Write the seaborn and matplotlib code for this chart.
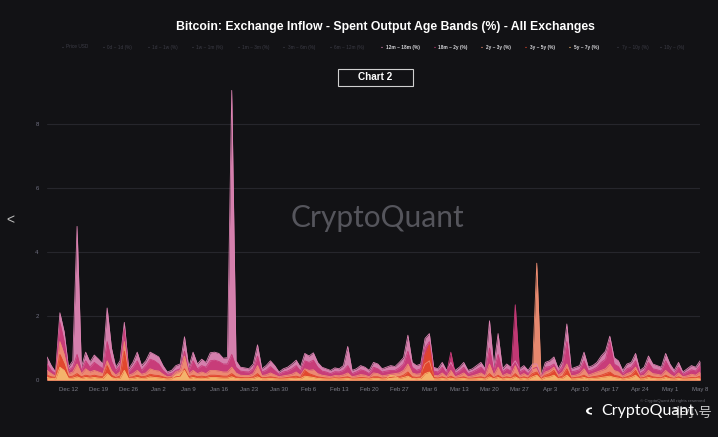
import numpy as np
import pandas as pd
import matplotlib
matplotlib.use("Agg")
import matplotlib.pyplot as plt
import matplotlib.dates as mdates
from matplotlib.patches import Rectangle, Wedge
import seaborn as sns

# ---------------- data (% of inflow) ----------------
start_date = "2022-12-07"

band_12m_18m = [
    0.72, 0.45, 0.25, 2.10, 1.50, 0.40, 0.60, 4.80, 0.40, 0.87,
    0.56, 0.78, 0.65, 0.50, 2.25, 1.00, 0.40, 0.60, 1.80, 0.35,
    0.55, 0.87, 0.45, 0.60, 0.87, 0.80, 0.72, 0.45, 0.25, 0.30,
    0.45, 0.50, 1.35, 0.40, 0.87, 0.50, 0.65, 0.55, 0.85, 0.87,
    0.83, 0.68, 0.70, 9.05, 0.60, 0.40, 0.38, 0.35, 0.50, 1.10,
    0.35, 0.45, 0.60, 0.45, 0.25, 0.35, 0.40, 0.50, 0.62, 0.40,
    0.83, 0.75, 0.85, 0.55, 0.40, 0.35, 0.30, 0.38, 0.35, 0.45,
    1.05, 0.30, 0.35, 0.45, 0.40, 0.30, 0.55, 0.50, 0.35, 0.40,
    0.45, 0.42, 0.55, 0.70, 1.40, 0.55, 0.45, 0.50, 1.30, 1.45,
    0.40, 0.35, 0.55, 0.30, 0.55, 0.30, 0.40, 0.55, 0.30, 0.35,
    0.45, 0.55, 0.35, 1.85, 0.40, 1.45, 0.35, 0.50, 0.40, 0.60,
    0.35, 0.45, 0.30, 0.50, 0.50, 0.15, 0.55, 0.60, 0.72, 0.35,
    0.60, 1.75, 0.35, 0.40, 0.45, 0.87, 0.40, 0.45, 0.55, 0.75,
    0.90, 1.37, 0.70, 0.60, 0.30, 0.50, 0.55, 0.83, 0.30, 0.40,
    0.75, 0.50, 0.45, 0.40, 0.83, 0.50, 0.30, 0.55, 0.25, 0.35,
    0.45, 0.40, 0.60,
]
band_18m_2y = [
    0.50, 0.30, 0.20, 1.80, 1.20, 0.30, 0.40, 0.80, 0.30, 0.60,
    0.40, 0.55, 0.45, 0.35, 1.20, 0.60, 0.30, 0.45, 1.60, 0.25,
    0.40, 0.60, 0.30, 0.45, 0.65, 0.60, 0.50, 0.30, 0.18, 0.20,
    0.30, 0.35, 0.90, 0.30, 0.60, 0.35, 0.45, 0.40, 0.60, 0.62,
    0.58, 0.50, 0.50, 0.80, 0.40, 0.28, 0.26, 0.25, 0.35, 0.75,
    0.25, 0.30, 0.42, 0.30, 0.18, 0.25, 0.28, 0.35, 0.45, 0.28,
    0.60, 0.55, 0.62, 0.40, 0.28, 0.25, 0.20, 0.26, 0.25, 0.30,
    0.45, 0.20, 0.25, 0.32, 0.28, 0.20, 0.40, 0.35, 0.25, 0.28,
    0.30, 0.30, 0.38, 0.50, 0.90, 0.40, 0.30, 0.35, 1.00, 1.20,
    0.28, 0.25, 0.40, 0.20, 0.87, 0.20, 0.28, 0.40, 0.20, 0.25,
    0.32, 0.40, 0.25, 1.00, 0.28, 0.80, 0.25, 0.35, 0.28, 2.35,
    0.25, 0.32, 0.20, 0.35, 0.40, 0.10, 0.40, 0.42, 0.50, 0.25,
    0.42, 1.20, 0.25, 0.28, 0.32, 0.60, 0.28, 0.32, 0.40, 0.55,
    0.65, 1.20, 0.50, 0.42, 0.20, 0.35, 0.40, 0.60, 0.20, 0.28,
    0.55, 0.35, 0.32, 0.28, 0.60, 0.35, 0.20, 0.40, 0.18, 0.25,
    0.32, 0.28, 0.45,
]
band_2y_3y = [
    0.30, 0.20, 0.12, 1.20, 0.80, 0.20, 0.25, 0.50, 0.20, 0.35,
    0.25, 0.30, 0.25, 0.20, 0.60, 0.30, 0.15, 0.25, 1.20, 0.15,
    0.20, 0.30, 0.18, 0.22, 0.35, 0.30, 0.28, 0.18, 0.10, 0.12,
    0.25, 0.30, 0.75, 0.20, 0.30, 0.20, 0.25, 0.20, 0.30, 0.30,
    0.28, 0.25, 0.25, 0.40, 0.22, 0.15, 0.14, 0.14, 0.20, 0.45,
    0.14, 0.16, 0.22, 0.16, 0.10, 0.13, 0.15, 0.18, 0.25, 0.15,
    0.35, 0.30, 0.32, 0.20, 0.15, 0.13, 0.10, 0.14, 0.13, 0.16,
    0.22, 0.10, 0.13, 0.17, 0.15, 0.10, 0.22, 0.20, 0.13, 0.15,
    0.18, 0.20, 0.22, 0.30, 0.50, 0.22, 0.18, 0.20, 0.50, 0.60,
    0.15, 0.13, 0.22, 0.10, 0.30, 0.10, 0.15, 0.22, 0.10, 0.13,
    0.17, 0.22, 0.13, 0.50, 0.15, 0.40, 0.13, 0.20, 0.15, 0.45,
    0.13, 0.20, 0.12, 0.30, 3.65, 0.08, 0.25, 0.30, 0.40, 0.15,
    0.25, 0.50, 0.13, 0.15, 0.20, 0.35, 0.15, 0.20, 0.25, 0.30,
    0.35, 0.50, 0.30, 0.25, 0.12, 0.20, 0.25, 0.40, 0.12, 0.15,
    0.30, 0.20, 0.18, 0.15, 0.30, 0.18, 0.10, 0.22, 0.10, 0.13,
    0.18, 0.15, 0.25,
]
band_3y_5y = [
    0.15, 0.10, 0.08, 0.80, 0.50, 0.10, 0.12, 0.20, 0.10, 0.15,
    0.12, 0.15, 0.12, 0.10, 0.45, 0.15, 0.08, 0.12, 0.90, 0.08,
    0.10, 0.15, 0.10, 0.12, 0.18, 0.15, 0.14, 0.10, 0.06, 0.07,
    0.10, 0.12, 0.35, 0.10, 0.15, 0.10, 0.12, 0.10, 0.15, 0.15,
    0.14, 0.12, 0.12, 0.20, 0.10, 0.08, 0.07, 0.07, 0.10, 0.20,
    0.07, 0.08, 0.10, 0.08, 0.05, 0.06, 0.08, 0.10, 0.12, 0.08,
    0.30, 0.20, 0.15, 0.10, 0.08, 0.06, 0.05, 0.07, 0.06, 0.08,
    0.10, 0.05, 0.06, 0.08, 0.07, 0.05, 0.10, 0.10, 0.06, 0.07,
    0.08, 0.10, 0.10, 0.15, 0.25, 0.10, 0.08, 0.10, 0.80, 1.10,
    0.08, 0.06, 0.10, 0.05, 0.12, 0.05, 0.07, 0.10, 0.05, 0.06,
    0.08, 0.10, 0.06, 0.20, 0.07, 0.15, 0.06, 0.10, 0.07, 0.20,
    0.06, 0.10, 0.06, 0.20, 0.25, 0.04, 0.15, 0.20, 0.30, 0.08,
    0.12, 0.35, 0.06, 0.08, 0.10, 0.15, 0.07, 0.10, 0.12, 0.15,
    0.20, 0.25, 0.15, 0.12, 0.06, 0.10, 0.15, 0.30, 0.06, 0.08,
    0.15, 0.10, 0.08, 0.07, 0.15, 0.08, 0.05, 0.10, 0.05, 0.06,
    0.08, 0.07, 0.12,
]
band_5y_7y = [
    0.08, 0.05, 0.04, 0.40, 0.30, 0.05, 0.06, 0.10, 0.05, 0.08,
    0.06, 0.08, 0.06, 0.05, 0.20, 0.08, 0.04, 0.06, 0.30, 0.04,
    0.05, 0.08, 0.05, 0.06, 0.10, 0.08, 0.07, 0.05, 0.03, 0.04,
    0.15, 0.20, 0.30, 0.05, 0.08, 0.05, 0.06, 0.05, 0.08, 0.08,
    0.07, 0.06, 0.06, 0.10, 0.05, 0.04, 0.04, 0.04, 0.05, 0.10,
    0.04, 0.04, 0.05, 0.04, 0.03, 0.03, 0.04, 0.05, 0.06, 0.04,
    0.12, 0.10, 0.08, 0.05, 0.04, 0.03, 0.03, 0.04, 0.03, 0.04,
    0.05, 0.03, 0.03, 0.04, 0.04, 0.03, 0.05, 0.05, 0.03, 0.04,
    0.15, 0.12, 0.05, 0.08, 0.12, 0.05, 0.04, 0.05, 0.20, 0.25,
    0.04, 0.03, 0.05, 0.03, 0.06, 0.03, 0.04, 0.05, 0.03, 0.03,
    0.04, 0.05, 0.03, 0.10, 0.04, 0.08, 0.03, 0.05, 0.04, 0.10,
    0.03, 0.05, 0.03, 0.10, 0.15, 0.02, 0.08, 0.10, 0.15, 0.04,
    0.06, 0.15, 0.03, 0.04, 0.05, 0.08, 0.04, 0.05, 0.06, 0.08,
    0.10, 0.12, 0.08, 0.06, 0.03, 0.05, 0.08, 0.15, 0.03, 0.04,
    0.08, 0.05, 0.04, 0.04, 0.08, 0.04, 0.03, 0.05, 0.03, 0.03,
    0.04, 0.04, 0.06,
]

series_names = ["12m ~ 18m (%)", "18m ~ 2y (%)", "2y ~ 3y (%)", "3y ~ 5y (%)", "5y ~ 7y (%)"]
series_values = [band_12m_18m, band_18m_2y, band_2y_3y, band_3y_5y, band_5y_7y]
series_colors = ["#dc83b2", "#c83a78", "#ee8d72", "#e1452c", "#f5b76e"]

legend_labels = ["Price USD", "0d ~ 1d (%)", "1d ~ 1w (%)", "1w ~ 1m (%)", "1m ~ 3m (%)",
                 "3m ~ 6m (%)", "6m ~ 12m (%)", "12m ~ 18m (%)", "18m ~ 2y (%)",
                 "2y ~ 3y (%)", "3y ~ 5y (%)", "5y ~ 7y (%)", "7y ~ 10y (%)", "10y ~ (%)"]
legend_active = [False] * 7 + [True] * 5 + [False] * 2

y_ticks = [0, 2, 4, 6, 8]

title = "Bitcoin: Exchange Inflow - Spent Output Age Bands (%) - All Exchanges"

# ---------------- figure ----------------
dates = pd.date_range(start_date, periods=len(band_12m_18m), freq="D")
rows = []
for name, vals in zip(series_names, series_values):
    assert len(vals) == len(dates), (name, len(vals))
    for d, v in zip(dates, vals):
        rows.append({"date": d, "band": name, "value": v})
df = pd.DataFrame(rows)

sns.set_theme(style="dark")
BG = "#121215"
plt.rcParams["font.family"] = ["Liberation Sans", "DejaVu Sans"]

fig = plt.figure(figsize=(7.18, 4.37), dpi=100, facecolor=BG)
W, H = 718, 437
ax_left, ax_right, ax_top, ax_bot = 47, 700, 85.6, 380
ax = fig.add_axes([ax_left / W, 1 - ax_bot / H, (ax_right - ax_left) / W, (ax_bot - ax_top) / H])
ax.set_facecolor(BG)

for name, col in zip(series_names, series_colors):
    sub = df[df["band"] == name]
    ax.fill_between(sub["date"], 0, sub["value"], color=col, linewidth=0, alpha=0.97)
sns.lineplot(data=df, x="date", y="value", hue="band", palette=dict(zip(series_names, series_colors)),
             linewidth=0.6, legend=False, ax=ax)

ax.set_xlim(dates[0], dates[-1])
ax.set_ylim(0, 9.2)
ax.set_yticks(y_ticks)
ax.grid(axis="y", color="#26262c", linewidth=0.8)
ax.grid(axis="x", visible=False)
ax.set_axisbelow(True)
for s in ax.spines.values():
    s.set_visible(False)
ax.set_xlabel("")
ax.set_ylabel("")
ax.xaxis.set_major_locator(mdates.WeekdayLocator(byweekday=mdates.MO))
ax.xaxis.set_major_formatter(mdates.DateFormatter("%b %-d"))
ax.tick_params(axis="x", colors="#7d7d88", labelsize=4.3, length=0, pad=5)
ax.tick_params(axis="y", colors="#6f6f80", labelsize=4.3, length=0, pad=6)

# title
fig.text(385 / W, 1 - 27 / H, title, ha="center", va="center", color="white",
         fontsize=8.8, fontweight="bold")

# legend row
legend_x = [62, 103, 148, 192, 238, 283, 330, 381, 434, 481, 525, 569, 617, 660]
for lx, lab, act in zip(legend_x, legend_labels, legend_active):
    tcol = "#d8d8dc" if act else "#3c3c46"
    if lab in series_names and act:
        mcol = series_colors[series_names.index(lab)]
    else:
        mcol = "#3c3c46"
    fig.text(lx / W, 1 - 47 / H, "●", color=mcol, fontsize=2.5, ha="left", va="center")
    fig.text((lx + 4.5) / W, 1 - 47 / H, lab, color=tcol, fontsize=3.4, ha="left", va="center",
             fontweight="bold" if act else "normal")

# Chart 2 box
fig.patches.append(Rectangle((338 / W, 1 - 86 / H), 75 / W, 17 / H, transform=fig.transFigure,
                             facecolor=BG, edgecolor="#d0d0d0", linewidth=0.8))
fig.text(375.5 / W, 1 - 77.5 / H, "Chart 2", color="white", fontsize=7.2, fontweight="bold",
         ha="center", va="center")

# watermark
fig.text(377 / W, 1 - 218 / H, "CryptoQuant", color="#55555c", fontsize=21.5,
         ha="center", va="center", family=["Lato", "DejaVu Sans"])

# left arrow
fig.text(10 / W, 1 - 220 / H, "<", color="#bdbdbd", fontsize=10, ha="center", va="center")

# bottom-right branding
fig.text(640 / W, 1 - 401 / H, "© CryptoQuant All rights reserved", color="#6a6a72", fontsize=3.2,
         ha="left", va="center")
logo = Wedge((592 / W, 1 - 411 / H), 6 / W, 90, 270, width=2.5 / W, transform=fig.transFigure,
             facecolor="white", edgecolor="none")
fig.patches.append(logo)
fig.text(601 / W, 1 - 411 / H, "CryptoQuant", color="white", fontsize=11.5,
         ha="left", va="center", family=["Lato", "DejaVu Sans"])
fig.text(672 / W, 1 - 413 / H, "非小号", color="#e8e8e8", fontsize=9.5, ha="left", va="center",
         family=["Noto Sans CJK SC", "DejaVu Sans"], alpha=0.85)

fig.savefig("out.png", dpi=100, facecolor=BG)
